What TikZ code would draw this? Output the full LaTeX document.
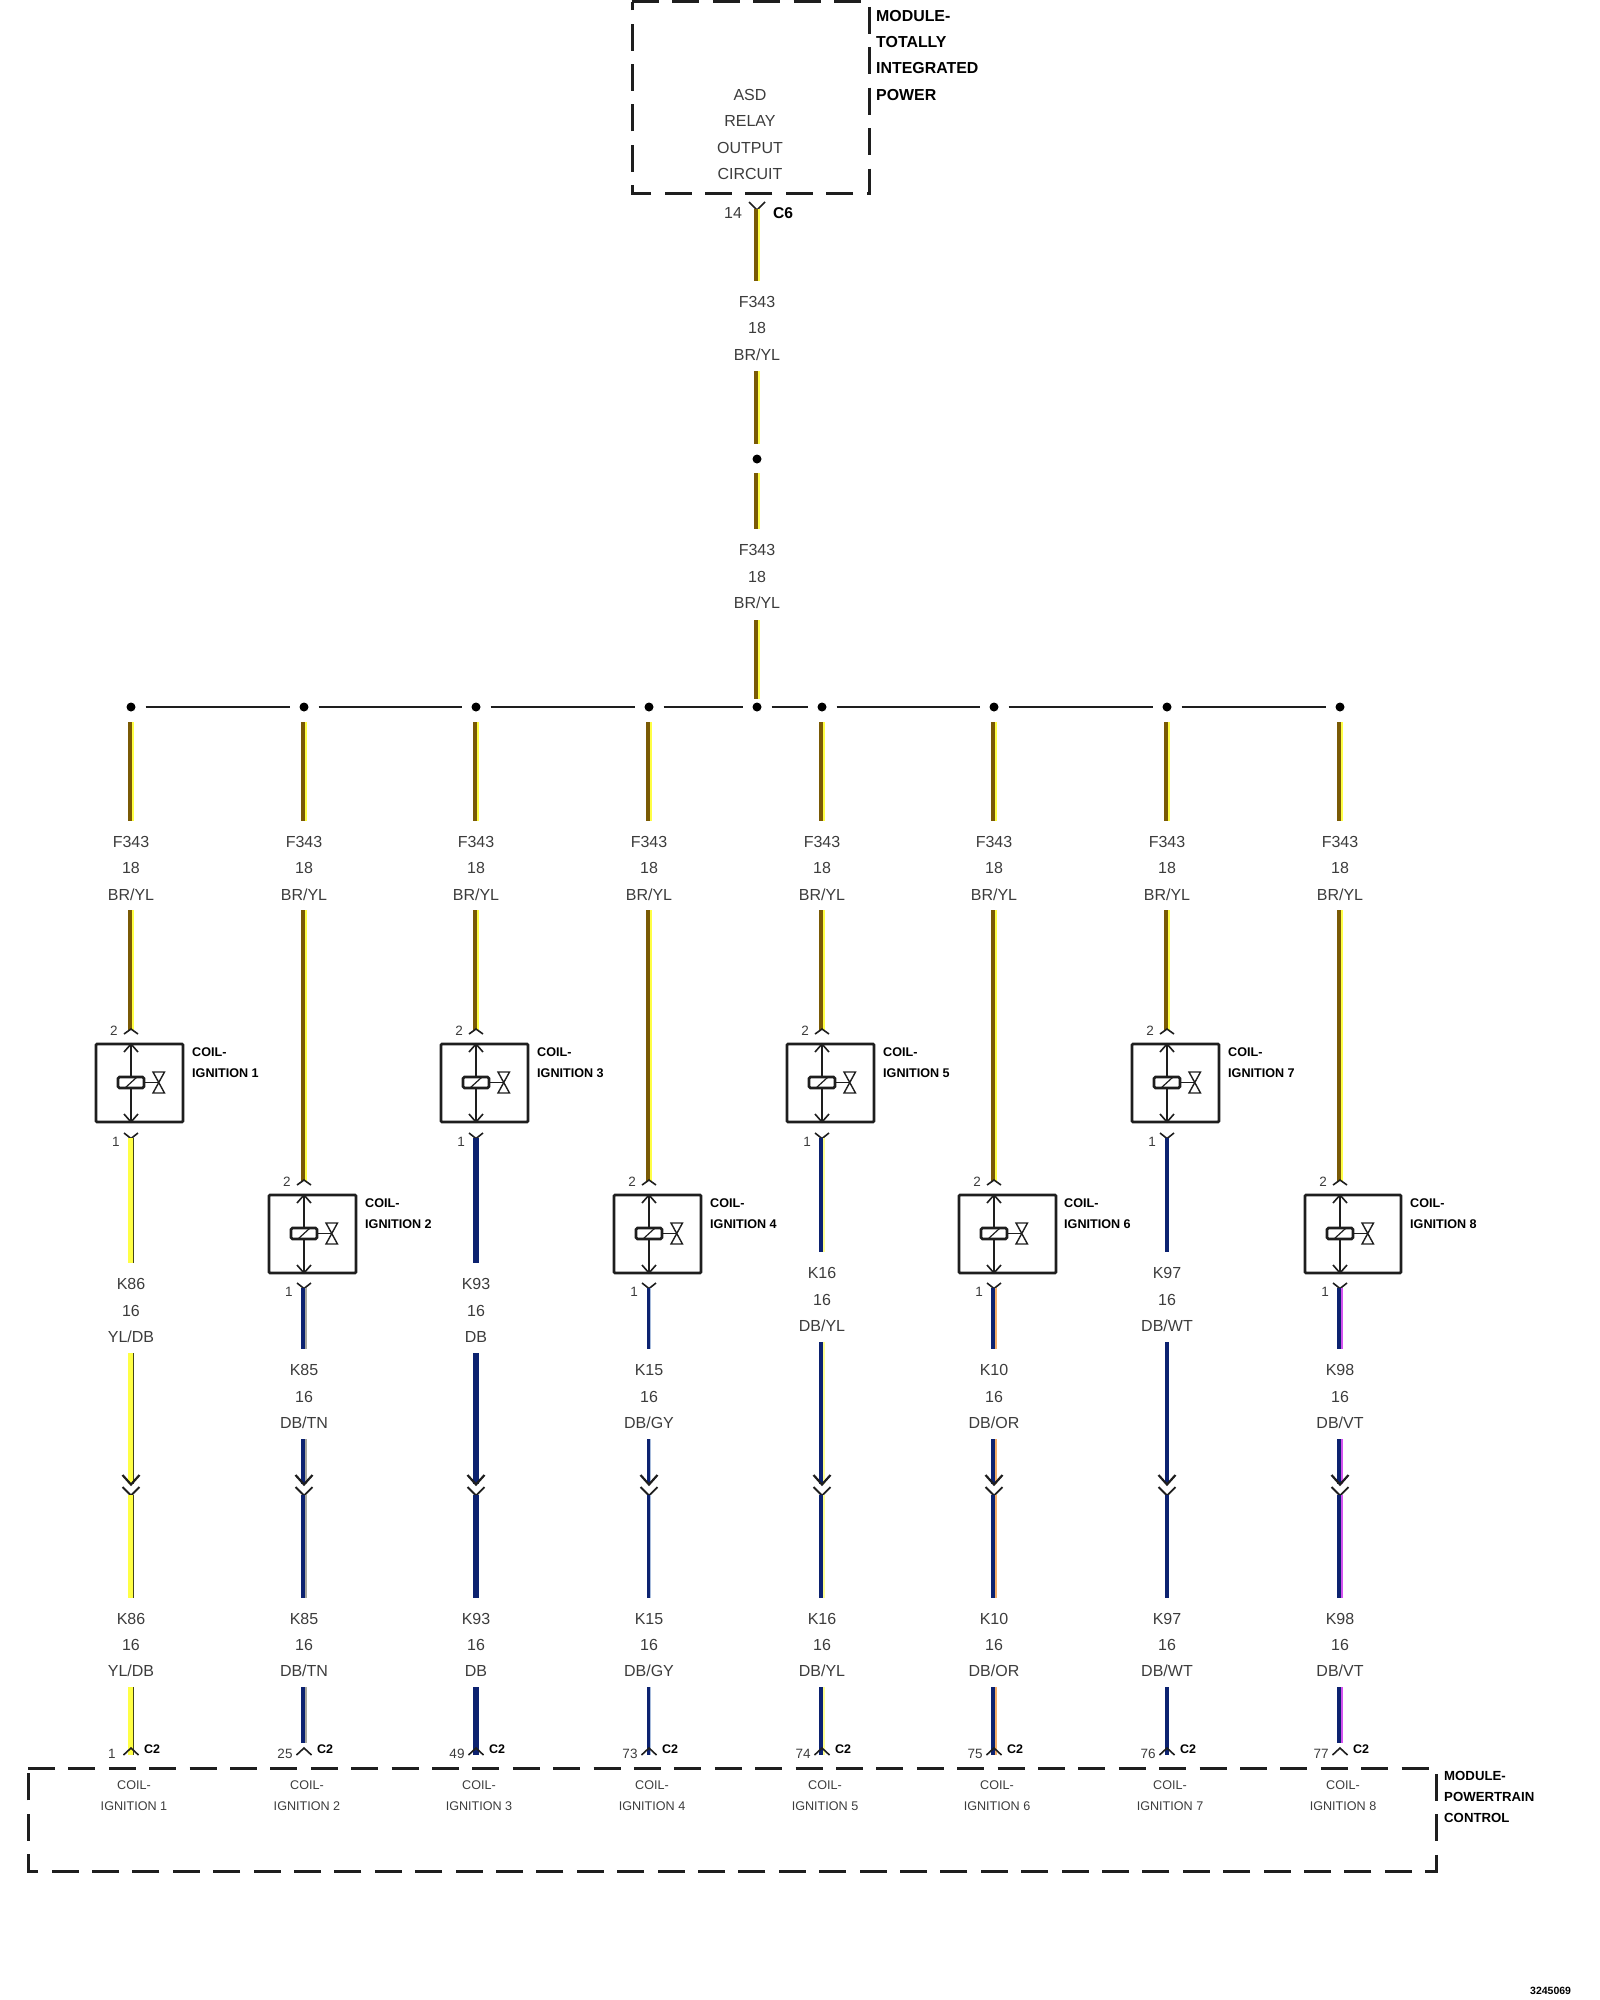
\documentclass[tikz,border=0pt]{standalone}
\usepackage{fontspec}
\setmainfont{Liberation Sans}
\definecolor{brn}{HTML}{7A5A05}
\definecolor{ylw}{HTML}{FFFF45}
\definecolor{navy}{HTML}{0C2270}
\definecolor{ink}{HTML}{1E1E1E}
\definecolor{soft}{HTML}{3C3C3C}
\definecolor{vlt}{HTML}{D452F0}
\definecolor{tan}{HTML}{A8A89E}
\definecolor{org}{HTML}{F4AE68}
\definecolor{pale}{HTML}{FFFF90}
\definecolor{oliv}{HTML}{45451A}
\definecolor{gry}{HTML}{A8BCDC}
\tikzset{
  lab/.style={inner sep=0pt,text=soft,text height=11.5pt,text depth=0pt,font=\fontsize{16}{18}\selectfont},
  clab/.style={inner sep=0pt,text=soft,text height=9pt,text depth=0pt,font=\fontsize{12.6}{14}\selectfont},
  pin/.style={inner sep=0pt,text=soft,text height=9pt,text depth=0pt,font=\fontsize{13.5}{15}\selectfont},
  blab/.style={inner sep=0pt,anchor=west,text=black,text height=9pt,text depth=0pt,font=\fontsize{12.6}{14}\selectfont\bfseries},
  mlab/.style={inner sep=0pt,anchor=west,text=black,text height=11.5pt,text depth=0pt,font=\fontsize{15.9}{18}\selectfont\bfseries},
  module/.style={line width=3pt,draw=ink,dash pattern=on 27pt off 13.4pt},
  busline/.style={line width=2.6pt,draw=ink},
  junction/.style={circle,fill=black,inner sep=0pt,minimum size=9pt},
  contact/.style={line width=1.6pt,draw=ink},
  coilbox/.style={draw=ink,line width=2.6pt,rounded corners=1pt,inner sep=0pt},
}
% name, x, y1, y2, colour 1, colour 2, width 1, width 2
\newcommand\wire[8]{%
  \coordinate (#1a) at (#2,#3);
  \coordinate (#1b) at (#2,#4);
  \pgfmathsetmacro\shA{-#8/2}\pgfmathsetmacro\shB{#7/2}%
  \ifdim #8pt>0pt
    \draw[line width=#8pt,draw=#6] ([xshift=\shB pt]#1a) -- ([xshift=\shB pt]#1b);
  \fi
  \draw[line width=#7pt,draw=#5] ([xshift=\shA pt]#1a) -- ([xshift=\shA pt]#1b);
}
% idx, x, code, colour label, pin, c1, c2, w1, w2
\newcommand\Col[9]{%
  \pgfmathtruncatemacro\idx{#1}%
  \pgfmathsetmacro\colx{#2}%
  \ifodd\idx
    \def\Btop{1044}\def\Yw{1030}\def\Ypin{1031}\def\Ylow{1133}
    \ifnum\idx<5 \def\Wend{1263}\def\Lk{1284}\else \def\Wend{1252}\def\Lk{1273}\fi
  \else
    \def\Btop{1195}\def\Yw{1181}\def\Ypin{1182}\def\Ylow{1283}
    \def\Wend{1349}\def\Lk{1370}
  \fi
  \ifnum\idx=6 \def\Bw{62}\def\Lx{70}\else\ifnum\idx=8 \def\Bw{61}\def\Lx{70}\else \def\Bw{52}\def\Lx{61}\fi\fi
  \ifnum\idx=2 \def\Wlast{1743}\else\ifnum\idx=8 \def\Wlast{1743}\else \def\Wlast{1755}\fi\fi
  \pgfmathsetmacro\Bbot{\Btop+78}
  \pgfmathsetmacro\Bmid{\Btop+38.5}
  \pgfmathsetmacro\Lr{\Wend+21}\pgfmathsetmacro\Ls{\Lk+26.5}\pgfmathsetmacro\Lt{\Lk+53}
  \pgfmathsetmacro\Wres{\Lk+69}
  % upper wires
  \wire{up#1}{#2}{722}{821}{brn}{ylw}{3.6}{2.2}
  \node[lab] (f#1) at (#2,842) {F343};
  \node[lab] (g#1) at (#2,868) {18};
  \node[lab] (c#1) at (#2,895) {BR/YL};
  \wire{um#1}{#2}{910}{\Yw}{brn}{ylw}{3.6}{2.2}
  \draw[contact] (\colx-7,\Yw+4) -- (\colx,\Yw-1) -- (\colx+7,\Yw+4);
  \node[pin] (pt#1) at (\colx-17,\Ypin) {2};
  % coil
  \path[coilbox,draw] (\colx-35,\Btop) rectangle (\colx+\Bw,\Bbot);
  \coordinate (bt#1) at (#2,\Btop);
  \coordinate (bb#1) at (#2,\Bbot);
  \draw[line width=1.5pt,draw=ink] (bt#1) -- (bb#1);
  \draw[contact] (\colx-7,\Btop+8) -- (bt#1) -- (\colx+7,\Btop+8);
  \draw[contact] (\colx-7,\Bbot-8) -- (bb#1) -- (\colx+7,\Bbot-8);
  \draw[line width=1.5pt,draw=ink] (\colx+13,\Bmid) -- (\colx+27,\Bmid);
  \draw[line width=2.6pt,draw=ink,fill=white,rounded corners=1.5pt] (\colx-13,\Bmid-5.5) rectangle (\colx+13,\Bmid+5.5);
  \draw[line width=1.2pt,draw=ink] (\colx-6,\Bmid+5.5) -- (\colx+6,\Bmid-5.5);
  \draw[line width=1.4pt,draw=ink] (\colx+22,\Bmid-10.5) -- (\colx+33.5,\Bmid-10.5) -- (\colx+22,\Bmid+10.5) -- (\colx+33.5,\Bmid+10.5) -- cycle;
  \node[blab] (cn#1) at (\colx+\Lx,\Btop+8) {COIL-};
  \node[blab] (ci#1) at (\colx+\Lx,\Btop+29) {IGNITION #1};
  % lower wires
  \draw[contact] (\colx-7,\Ylow) -- (\colx,\Ylow+5.5) -- (\colx+7,\Ylow);
  \node[pin] (pb#1) at (\colx-15,\Ylow+9) {1};
  \wire{la#1}{#2}{\Ylow+5}{\Wend}{#6}{#7}{#8}{#9}
  \node[lab] (ka#1) at (#2,\Lk) {#3};
  \node[lab] (kb#1) at (#2,\Ls) {16};
  \node[lab] (kc#1) at (#2,\Lt) {#4};
  \wire{lb#1}{#2}{\Wres}{1484}{#6}{#7}{#8}{#9}
  \draw[line width=2.2pt,draw=ink] (\colx-8.5,1475) -- (\colx,1484.5) -- (\colx+8.5,1475);
  \draw[line width=1.8pt,draw=ink] (\colx-8.5,1487) -- (\colx,1495.5) -- (\colx+8.5,1487);
  \wire{lc#1}{#2}{1495}{1598}{#6}{#7}{#8}{#9}
  \node[lab] (ma#1) at (#2,1619) {#3};
  \node[lab] (mb#1) at (#2,1645) {16};
  \node[lab] (mc#1) at (#2,1671) {#4};
  \wire{ld#1}{#2}{1687}{\Wlast}{#6}{#7}{#8}{#9}
  \draw[contact] (\colx-7.5,1755) -- (\colx,1748) -- (\colx+7.5,1755);
  \node[pin] (pc#1) at (\colx-19,1754) {#5};
  \node[pin,font=\fontsize{12.5}{14}\selectfont\bfseries,text=black] (cc#1) at (\colx+21,1749) {C2};
  \node[clab] (ea#1) at (\colx+3,1785) {COIL-};
  \node[clab] (eb#1) at (\colx+3,1806) {IGNITION #1};
}
\begin{document}
\begin{tikzpicture}[x=1pt,y=-1pt]
\useasboundingbox (0,0) rectangle (1600,2000);
% top module
\draw[module] (632,1.5) -- (869,1.5) -- (869,193) -- (632,193) -- cycle;
\node[lab] (asd) at (750,95) {ASD};
\node[lab] (rel) at (750,121) {RELAY};
\node[lab] (out) at (750,148) {OUTPUT};
\node[lab] (cir) at (750,174) {CIRCUIT};
\node[mlab] (m1) at (876,16) {MODULE-};
\node[mlab] (m2) at (876,42) {TOTALLY};
\node[mlab] (m3) at (876,68) {INTEGRATED};
\node[mlab] (m4) at (876,95) {POWER};
\draw[contact] (749,202) -- (757,210) -- (765,202);
\node[lab] (p14) at (733,213) {14};
\node[lab,font=\fontsize{15.6}{18}\selectfont\bfseries,text=black] (c6) at (783,213) {C6};
\wire{ma}{757}{209}{281}{brn}{ylw}{3.6}{2.2}
\node[lab] (fa) at (757,302) {F343};
\node[lab] (ga) at (757,328) {18};
\node[lab] (ha) at (757,355) {BR/YL};
\wire{mb}{757}{371}{444}{brn}{ylw}{3.6}{2.2}
\node[junction] (top) at (757,459) {};
\wire{mc}{757}{473}{529}{brn}{ylw}{3.6}{2.2}
\node[lab] (fb) at (757,550) {F343};
\node[lab] (gb) at (757,577) {18};
\node[lab] (hb) at (757,603) {BR/YL};
\wire{md}{757}{620}{699}{brn}{ylw}{3.6}{2.2}
% bus
\node[junction] (d1) at (131,707) {};
\node[junction] (d2) at (304,707) {};
\node[junction] (d3) at (476,707) {};
\node[junction] (d4) at (649,707) {};
\node[junction] (dm) at (757,707) {};
\node[junction] (d5) at (822,707) {};
\node[junction] (d6) at (994,707) {};
\node[junction] (d7) at (1167,707) {};
\node[junction] (d8) at (1340,707) {};
\foreach \a/\b in {d1/d2,d2/d3,d3/d4,d4/dm,dm/d5,d5/d6,d6/d7,d7/d8}
  \draw[busline] ([xshift=14.5pt]\a.center) -- ([xshift=-14.5pt]\b.center);
% columns
\Col{1}{131}{K86}{YL/DB}{1}{ylw}{oliv}{4.2}{1.2}
\Col{2}{304}{K85}{DB/TN}{25}{navy}{tan}{3.6}{2}
\Col{3}{476}{K93}{DB}{49}{navy}{navy}{5.6}{0}
\Col{4}{649}{K15}{DB/GY}{73}{navy}{gry}{3.8}{1}
\Col{5}{822}{K16}{DB/YL}{74}{navy}{pale}{3.4}{2}
\Col{6}{994}{K10}{DB/OR}{75}{navy}{org}{3.6}{1.8}
\Col{7}{1167}{K97}{DB/WT}{76}{navy}{white}{4}{0}
\Col{8}{1340}{K98}{DB/VT}{77}{navy}{vlt}{3.6}{2}
% bottom module
\draw[module] (28,1768) -- (1436,1768) -- (1436,1871) -- (28,1871) -- cycle;
\node[blab,font=\fontsize{13.2}{15}\selectfont\bfseries] (n1) at (1444,1776) {MODULE-};
\node[blab,font=\fontsize{13.2}{15}\selectfont\bfseries] (n2) at (1444,1797) {POWERTRAIN};
\node[blab,font=\fontsize{13.2}{15}\selectfont\bfseries] (n3) at (1444,1818) {CONTROL};
\node[blab,font=\fontsize{10.5}{12}\selectfont\bfseries,text height=7.5pt] (id) at (1530,1991) {3245069};
\end{tikzpicture}
\end{document}
